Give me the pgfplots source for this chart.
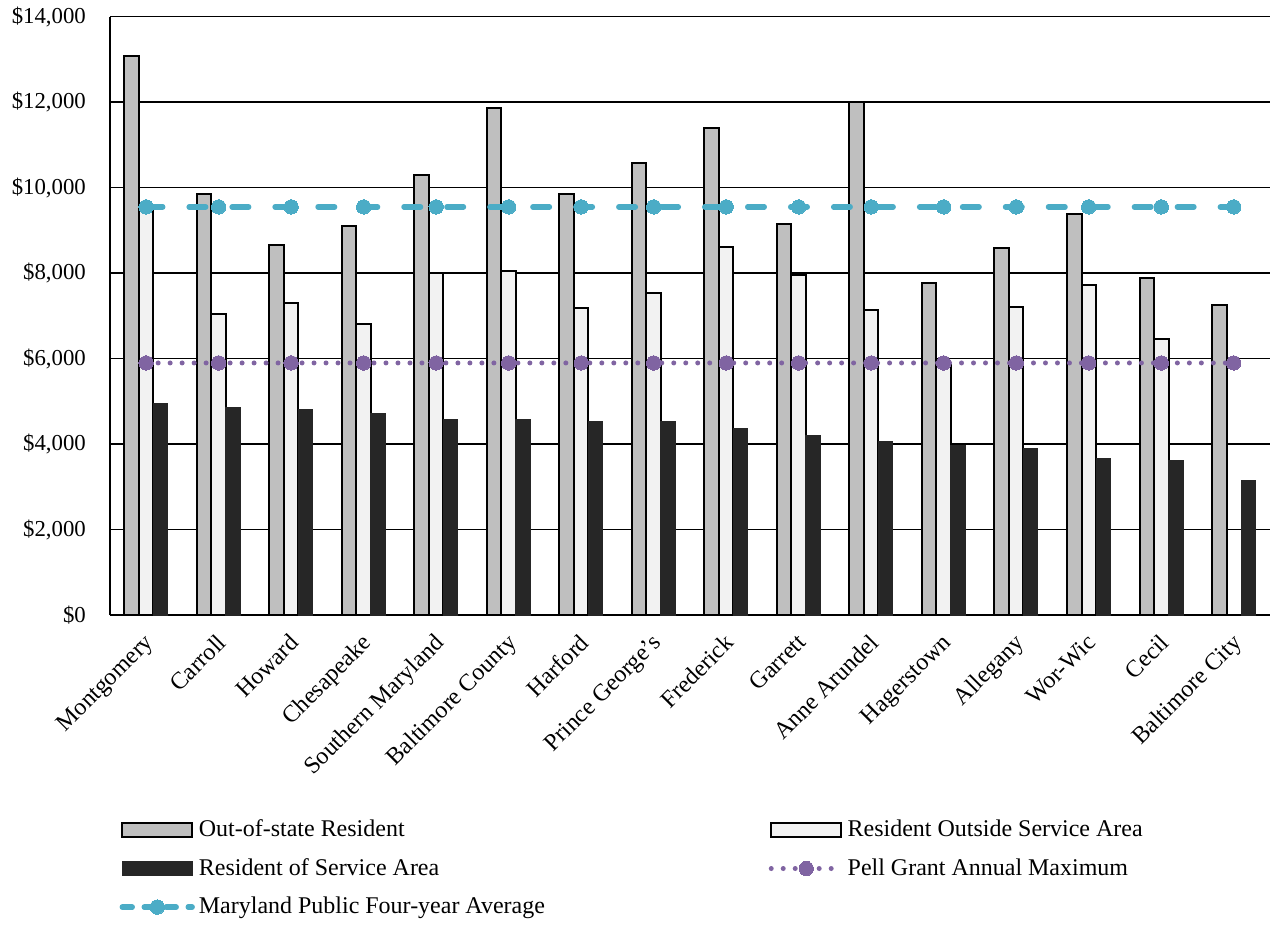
\documentclass[border=0pt]{standalone}
\usepackage{fontspec}
\setmainfont{Liberation Serif}
\usepackage{pgfplots}
\pgfplotsset{compat=1.18}
\definecolor{oos}{HTML}{BFBFBF}
\definecolor{outside}{HTML}{F2F2F2}
\definecolor{insa}{HTML}{262626}
\definecolor{teal4}{HTML}{4BACC6}
\definecolor{pell}{HTML}{8064A2}
\pgfplotsset{
  barleg/.style={legend image code/.code={\draw[##1] (0pt,-3.5pt) rectangle (35pt,3.5pt);}},
  lineleg/.style={legend image code/.code={\draw[##1, mark repeat=2, mark phase=2] plot coordinates {(0pt,0pt) (17.5pt,0pt) (35pt,0pt)};}},
  tealleg/.style={legend image code/.code={\draw[##1, mark repeat=2, mark phase=2, dash pattern=on 5pt off 6pt] plot coordinates {(0pt,0pt) (17.5pt,0pt) (35pt,0pt)};}},
}
\begin{document}
\begin{tikzpicture}
\begin{axis}[
  scale only axis,
  width=580.5pt, height=299.5pt,
  xmin=-0.5, xmax=15.5,
  ymin=0, ymax=14000,
  ytick={0,2000,...,14000},
  scaled y ticks=false,
  xtick={0,...,15},
  xticklabels={Montgomery,Carroll,Howard,Chesapeake,Southern Maryland,Baltimore County,Harford,Prince George’s,Frederick,Garrett,Anne Arundel,Hagerstown,Allegany,Wor-Wic,Cecil,Baltimore City},
  axis x line*=bottom,
  axis y line*=left,
  axis line style={black, line width=1pt, -},
  ymajorgrids,
  grid style={black, line width=0.8pt},
  major tick length=0pt,
  /pgf/number format/.cd, fixed, precision=0, 1000 sep={,}, assume math mode=true,
  /pgfplots/.cd,
  yticklabel={\$\pgfmathprintnumber{\tick}},
  yticklabel style={font=\fontsize{11.4}{13}\selectfont, xshift=-8.5pt},
  xticklabel style={font=\fontsize{12}{14}\selectfont, xshift=-1.5pt, yshift=-7pt, rotate=45, anchor=north east, inner sep=1pt},
  legend columns=2,
  legend cell align=left,
  legend style={at={(0.0028,-0.328)}, anchor=north west, draw=none, fill=none,
    font=\fontsize{12}{14}\selectfont, row sep=5.4pt,
    /tikz/every even column/.append style={column sep=110pt},
    /tikz/every odd column/.append style={column sep=0pt}},
  clip=false,
]
\addplot[ybar, bar width=0.2, bar shift=-0.2, fill=oos, draw=black, line width=1pt, barleg]
  coordinates {(0,13080) (1,9850) (2,8650) (3,9100) (4,10300) (5,11870) (6,9850) (7,10580) (8,11400) (9,9150) (10,12010) (11,7780) (12,8600) (13,9390) (14,7880) (15,7250)};
\addlegendentry{Out-of-state Resident}
\addplot[ybar, bar width=0.2, bar shift=0, fill=outside, draw=black, line width=1pt, barleg]
  coordinates {(0,9600) (1,7040) (2,7310) (3,6800) (4,8000) (5,8050) (6,7190) (7,7530) (8,8620) (9,7950) (10,7130) (11,5850) (12,7210) (13,7720) (14,6460)};
\addlegendentry{Resident Outside Service Area}
\addplot[ybar, bar width=0.2, bar shift=0.2, fill=insa, draw=insa, line width=0.5pt, barleg]
  coordinates {(0,4940) (1,4850) (2,4810) (3,4720) (4,4580) (5,4570) (6,4520) (7,4520) (8,4360) (9,4200) (10,4060) (11,3970) (12,3900) (13,3660) (14,3630) (15,3150)};
\addlegendentry{Resident of Service Area}
\addplot[sharp plot, color=pell, line width=2.5pt, line cap=round, dash pattern=on 0pt off 6pt,
  mark=*, mark size=3.6pt, mark options={solid, fill=pell, draw=pell, line width=0pt}, lineleg]
  coordinates {(0,5900) (1,5900) (2,5900) (3,5900) (4,5900) (5,5900) (6,5900) (7,5900) (8,5900) (9,5900) (10,5900) (11,5900) (12,5900) (13,5900) (14,5900) (15,5900)};
\addlegendentry{Pell Grant Annual Maximum}
\addplot[sharp plot, color=teal4, line width=2.7pt, line cap=round, dash pattern=on 8.3pt off 13.2pt,
  mark=*, mark size=3.6pt, mark options={solid, fill=teal4, draw=teal4, line width=0pt}, tealleg]
  coordinates {(0,9550) (1,9550) (2,9550) (3,9550) (4,9550) (5,9550) (6,9550) (7,9550) (8,9550) (9,9550) (10,9550) (11,9550) (12,9550) (13,9550) (14,9550) (15,9550)};
\addlegendentry{Maryland Public Four-year Average}
\path (rel axis cs:0,0) ++(-55pt,0pt);
\end{axis}
\end{tikzpicture}
\end{document}
